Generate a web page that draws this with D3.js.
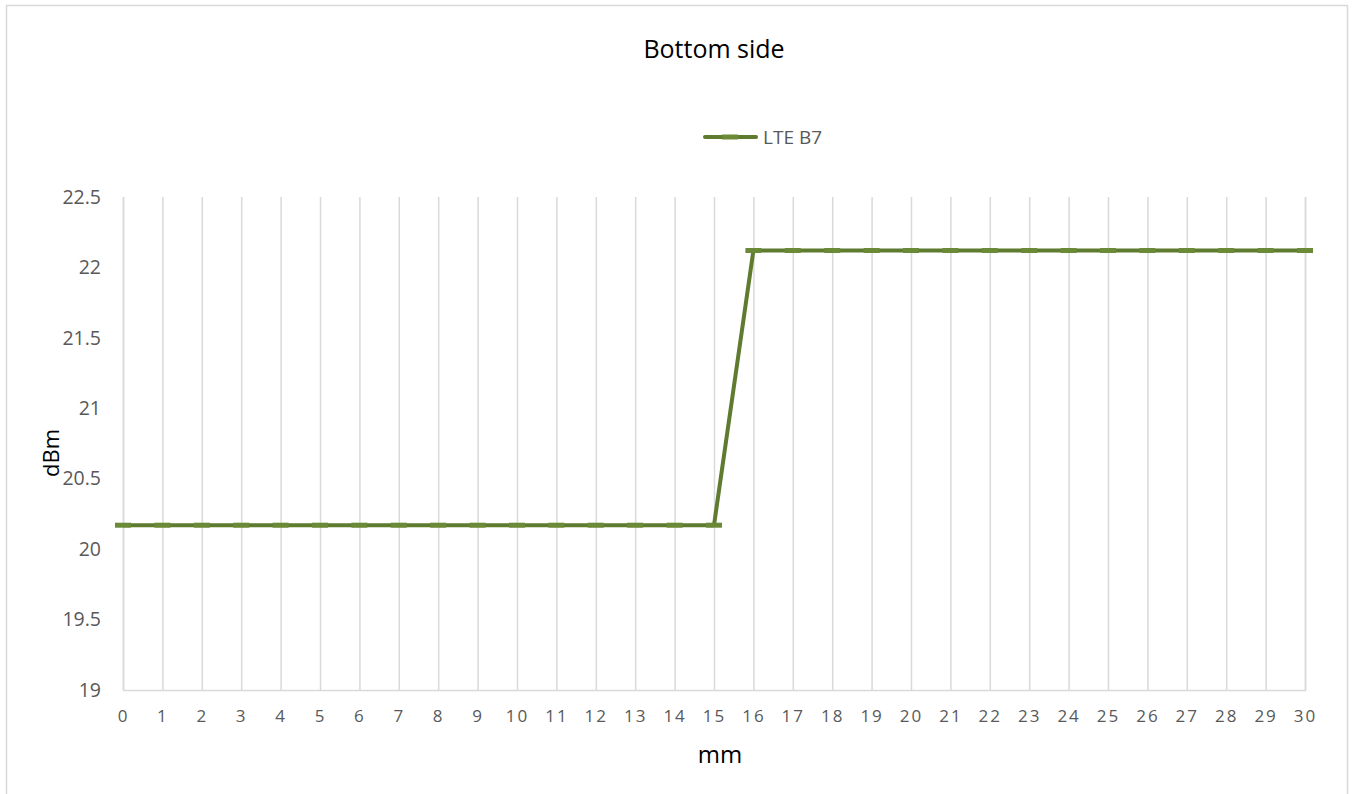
<!DOCTYPE html>
<html><head><meta charset="utf-8">
<script src="https://cdn.jsdelivr.net/npm/d3@7"></script>
<style>html,body{margin:0;padding:0;background:#fff;}svg{display:block;}</style>
</head><body>
<svg id="c" width="1353" height="794"></svg>
<script>
const categories = d3.range(0, 31);
const seriesName = "LTE B7";
const values = [20.17,20.17,20.17,20.17,20.17,20.17,20.17,20.17,20.17,20.17,20.17,20.17,20.17,20.17,20.17,20.17,
                22.12,22.12,22.12,22.12,22.12,22.12,22.12,22.12,22.12,22.12,22.12,22.12,22.12,22.12,22.12];
const yTicks = [19, 19.5, 20, 20.5, 21, 21.5, 22, 22.5];

const svg = d3.select("#c");
const font = "'Open Sans', 'Noto Sans', sans-serif";
const L = 123, R = 1305, T = 197, B = 690;

svg.append("rect").attr("x",6.5).attr("y",5.5).attr("width",1341).attr("height",800)
  .attr("fill","#fff").attr("stroke","#d9d9d9").attr("stroke-width",1.5);

const x = d3.scalePoint().domain(categories).range([L, R]);
const y = d3.scaleLinear().domain([19, 22.5]).range([B, T]);

// vertical gridlines
const xAxis = d3.axisBottom(x).tickSize(-(B - T)).tickPadding(20);
const gx = svg.append("g").attr("transform", `translate(0,${B})`).call(xAxis);
gx.select(".domain").attr("stroke","#d9d9d9").attr("stroke-width",1.5);
gx.selectAll(".tick line").attr("stroke","#d9d9d9").attr("stroke-width",1.5);
gx.selectAll(".tick text").attr("fill","#595959").style("font-family",font).style("font-size","17px").style("letter-spacing","2px");

const yAxis = d3.axisLeft(y).tickValues(yTicks).tickSize(0).tickPadding(22).tickFormat(d3.format("~g"));
const gy = svg.append("g").attr("transform", `translate(${L},0)`).call(yAxis);
gy.select(".domain").remove();
gy.selectAll(".tick text").attr("fill","#595959").style("font-family",font).style("font-size","19.5px");

// line
const line = d3.line().x((d,i)=>x(categories[i])).y(d=>y(d));
svg.append("path").datum(values).attr("d", line).attr("fill","none")
  .attr("stroke","#5f7b2f").attr("stroke-width",4).attr("stroke-linejoin","round");
// dash markers
svg.append("g").selectAll("line").data(values).join("line")
  .attr("x1",(d,i)=>x(categories[i])-8).attr("x2",(d,i)=>x(categories[i])+8)
  .attr("y1",d=>y(d)).attr("y2",d=>y(d))
  .attr("stroke","#6b8a38").attr("stroke-width",5);

// title
svg.append("text").attr("x",714).attr("y",58).attr("text-anchor","middle")
  .style("font-family",font).style("font-size","25px").attr("fill","#000").text("Bottom side");

// legend
svg.append("line").attr("x1",705).attr("x2",756).attr("y1",137).attr("y2",137)
  .attr("stroke","#5f7b2f").attr("stroke-width",4).attr("stroke-linecap","round");
svg.append("line").attr("x1",722).attr("x2",738).attr("y1",137).attr("y2",137)
  .attr("stroke","#6b8a38").attr("stroke-width",5);
svg.append("text").attr("x",763).attr("y",144).style("font-family",font).style("font-size","19px")
  .attr("fill","#595959").text(seriesName);

// axis titles
svg.append("text").attr("transform","translate(59,453) rotate(-90)").attr("text-anchor","middle")
  .style("font-family",font).style("font-size","22px").attr("fill","#000").text("dBm");
svg.append("text").attr("x",720).attr("y",763).attr("text-anchor","middle")
  .style("font-family",font).style("font-size","24px").attr("fill","#000").text("mm");
</script>
</body></html>
